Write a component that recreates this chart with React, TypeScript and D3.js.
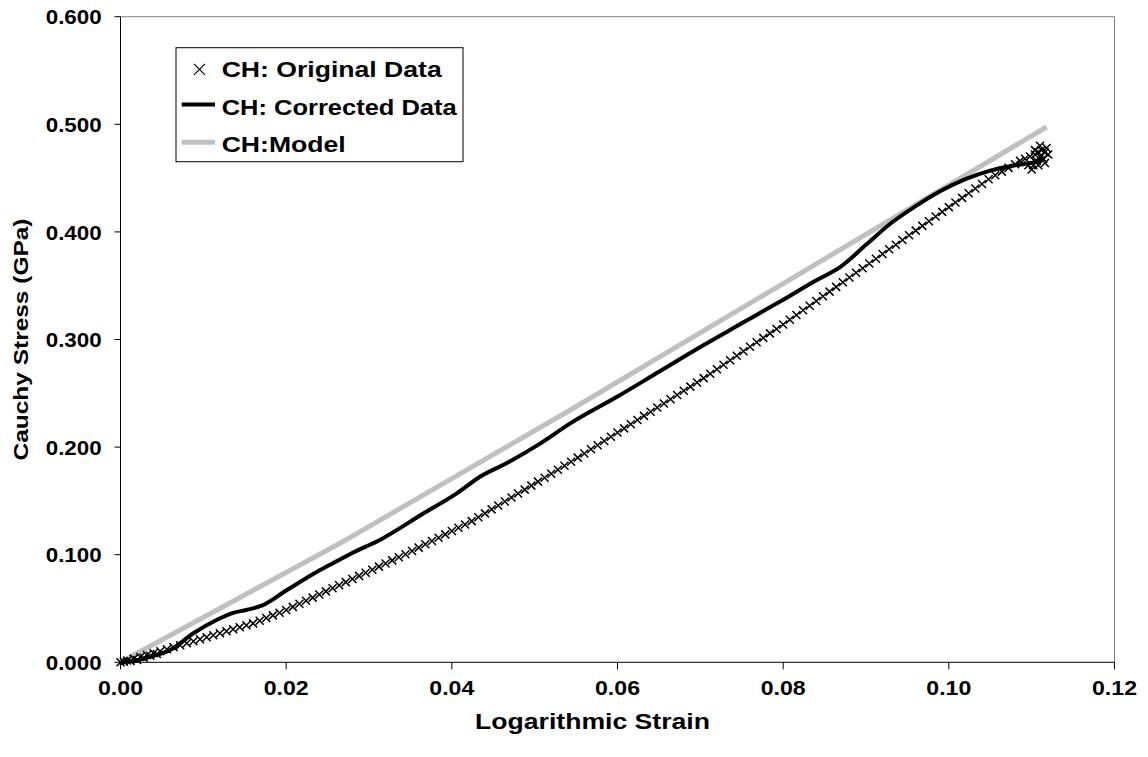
import React from 'react';
import * as d3 from 'd3';

const X_TICKS = [0, 0.02, 0.04, 0.06, 0.08, 0.1, 0.12];
const Y_TICKS = [0, 0.1, 0.2, 0.3, 0.4, 0.5, 0.6];
const LEGEND_LABELS = ['CH: Original Data', 'CH: Corrected Data', 'CH:Model'];
const X_TITLE = 'Logarithmic Strain';
const Y_TITLE = 'Cauchy Stress (GPa)';

// CH: Original Data  [strain, stress]
const ORIGINAL: [number, number][] = [
  [0.0, 0.0], [0.0004, 0.0006], [0.0008, 0.0017], [0.0012, 0.0012], [0.0016, 0.0034], [0.002, 0.0022],
  [0.0024, 0.005], [0.0028, 0.0042], [0.0032, 0.0067], [0.0036, 0.006], [0.004, 0.0084], [0.0044, 0.0078],
  [0.0048, 0.0103], [0.0056, 0.0121], [0.0064, 0.014], [0.0072, 0.0158], [0.008, 0.0177], [0.0088, 0.0195],
  [0.0096, 0.0214], [0.0104, 0.0232], [0.0112, 0.0251], [0.012, 0.027], [0.0128, 0.0288], [0.0136, 0.0307],
  [0.0144, 0.0325], [0.0152, 0.0344], [0.016, 0.0362], [0.0168, 0.0387], [0.0176, 0.0412], [0.0184, 0.0436],
  [0.0192, 0.0461], [0.02, 0.0486], [0.0208, 0.0515], [0.0216, 0.0544], [0.0224, 0.0572], [0.0232, 0.0601],
  [0.024, 0.063], [0.0248, 0.0659], [0.0256, 0.0688], [0.0264, 0.0716], [0.0272, 0.0745], [0.028, 0.0774],
  [0.0288, 0.0803], [0.0296, 0.0832], [0.0304, 0.086], [0.0312, 0.0889], [0.032, 0.0918], [0.0328, 0.0947],
  [0.0336, 0.0976], [0.0344, 0.1004], [0.0352, 0.1035], [0.036, 0.1066], [0.0368, 0.1097], [0.0376, 0.1127],
  [0.0384, 0.1158], [0.0392, 0.1189], [0.04, 0.122], [0.0408, 0.1251], [0.0416, 0.1281], [0.0424, 0.1312],
  [0.0432, 0.1348], [0.044, 0.1384], [0.0448, 0.1421], [0.0456, 0.1458], [0.0464, 0.1495], [0.0472, 0.1532],
  [0.048, 0.1568], [0.0488, 0.1605], [0.0496, 0.1642], [0.0504, 0.1679], [0.0512, 0.1716], [0.052, 0.1752],
  [0.0528, 0.1789], [0.0536, 0.1826], [0.0544, 0.1863], [0.0552, 0.1902], [0.056, 0.1941], [0.0568, 0.198],
  [0.0576, 0.2018], [0.0584, 0.2057], [0.0592, 0.2096], [0.06, 0.2135], [0.0608, 0.2174], [0.0616, 0.2212],
  [0.0624, 0.2251], [0.0632, 0.229], [0.064, 0.2329], [0.0648, 0.2368], [0.0656, 0.2406], [0.0664, 0.2445],
  [0.0672, 0.2484], [0.068, 0.2523], [0.0688, 0.2562], [0.0696, 0.26], [0.0704, 0.2641], [0.0712, 0.2682],
  [0.072, 0.2724], [0.0728, 0.2766], [0.0736, 0.2807], [0.0744, 0.2849], [0.0752, 0.289], [0.076, 0.2932],
  [0.0768, 0.2974], [0.0776, 0.3015], [0.0784, 0.3057], [0.0792, 0.3098], [0.08, 0.314], [0.0808, 0.3184],
  [0.0816, 0.3227], [0.0824, 0.3271], [0.0832, 0.3314], [0.084, 0.3358], [0.0848, 0.3402], [0.0856, 0.3445],
  [0.0864, 0.3489], [0.0872, 0.3532], [0.088, 0.3576], [0.0888, 0.362], [0.0896, 0.3663], [0.0904, 0.3707],
  [0.0912, 0.375], [0.092, 0.3794], [0.0928, 0.3838], [0.0936, 0.3881], [0.0944, 0.3925], [0.0952, 0.3968],
  [0.096, 0.4012], [0.0968, 0.4056], [0.0976, 0.4099], [0.0984, 0.4143], [0.0992, 0.4186], [0.1, 0.423],
  [0.1008, 0.4273], [0.1016, 0.4316], [0.1024, 0.436], [0.1032, 0.4403], [0.104, 0.4446], [0.1048, 0.4489],
  [0.1056, 0.4526], [0.1064, 0.456], [0.1072, 0.4595], [0.108, 0.4629], [0.1086, 0.466], [0.1092, 0.468],
  [0.1098, 0.47], [0.1104, 0.472], [0.111, 0.47], [0.1116, 0.474], [0.1108, 0.462], [0.11, 0.458],
  [0.1112, 0.476], [0.1118, 0.478], [0.1106, 0.466], [0.1114, 0.468], [0.112, 0.472], [0.1102, 0.462],
  [0.111, 0.48], [0.1096, 0.462], [0.1104, 0.476], [0.1116, 0.464], [0.1108, 0.474],
];

// CH: Corrected Data
const CORRECTED: [number, number][] = [
  [0.0, 0.0], [0.002, 0.002], [0.004, 0.006], [0.006, 0.0114], [0.0088, 0.027], [0.0116, 0.0393],
  [0.0136, 0.046], [0.0152, 0.0486], [0.0172, 0.0532], [0.0201, 0.0672], [0.0241, 0.0858], [0.0265, 0.0955],
  [0.0277, 0.1005], [0.0313, 0.1137], [0.0366, 0.1385], [0.0406, 0.157], [0.0434, 0.1725], [0.0466, 0.185],
  [0.0507, 0.2035], [0.0543, 0.222], [0.06, 0.247], [0.065, 0.27], [0.07, 0.293], [0.075, 0.315],
  [0.08, 0.337], [0.084, 0.355], [0.087, 0.368], [0.09, 0.388], [0.093, 0.408], [0.096, 0.424],
  [0.099, 0.438], [0.102, 0.449], [0.105, 0.457], [0.108, 0.462], [0.1105, 0.465], [0.1115, 0.47],
];

// CH:Model
const MODEL: [number, number][] = [
  [0.0, 0.0], [0.0265, 0.1106], [0.0543, 0.2345], [0.08, 0.352], [0.1118, 0.4975],
];

const FONT = '"Liberation Sans", Arial, Helvetica, sans-serif';

export default function App() {
  const x = d3.scaleLinear().domain([0, 0.12]).range([120.5, 1114.5]);
  const y = d3.scaleLinear().domain([0, 0.6]).range([662.3, 16.7]);
  const straight = d3.line<[number, number]>().x((d) => x(d[0])).y((d) => y(d[1]));
  const smooth = d3
    .line<[number, number]>()
    .x((d) => x(d[0]))
    .y((d) => y(d[1]))
    .curve(d3.curveMonotoneX);
  const fx = d3.format('.2f');
  const fy = d3.format('.3f');
  const [x0, x1] = x.range();
  const [y0, y1] = y.range();
  const m = 4;
  const markPath = `M${-m},${-m}L${m},${m}M${-m},${m}L${m},${-m}`;
  const lm = 5.5;
  const legendMark = `M${-lm},${-lm}L${lm},${lm}M${-lm},${lm}L${lm},${-lm}`;
  const legendWidths = [220, 235, 124];
  const legendBaselines = [77.3, 115, 151.7];
  const legendCenters = [69.3, 104.5, 142.3];

  return (
    <svg
      width={1148}
      height={757}
      style={{ position: 'absolute', left: 0, top: 0, background: '#fff' }}
      fontFamily={FONT}
    >
      <rect x={0} y={0} width={1148} height={757} fill="#fff" />
      {/* plot frame */}
      <line x1={x0} x2={x1} y1={y1} y2={y1} stroke="#808080" strokeWidth={1} />
      <line x1={x1} x2={x1} y1={y1} y2={y0} stroke="#808080" strokeWidth={1} />
      <line x1={x0} x2={x0} y1={y1} y2={y0} stroke="#000" strokeWidth={1} />
      <line x1={x0} x2={x1} y1={y0} y2={y0} stroke="#000" strokeWidth={1} />

      {/* y ticks */}
      {Y_TICKS.map((t) => (
        <g key={'y' + t}>
          <line x1={x0 - 6} x2={x0} y1={y(t)} y2={y(t)} stroke="#000" strokeWidth={1} />
          <text
            x={101.7}
            y={y(t) + 7.6}
            textAnchor="end"
            fontSize={21}
            fontWeight="bold"
            textLength={56}
            lengthAdjust="spacingAndGlyphs"
          >
            {fy(t)}
          </text>
        </g>
      ))}
      {/* x ticks */}
      {X_TICKS.map((t) => (
        <g key={'x' + t}>
          <line x1={x(t)} x2={x(t)} y1={y0} y2={y0 + 7} stroke="#000" strokeWidth={1} />
          <text
            x={x(t)}
            y={695}
            textAnchor="middle"
            fontSize={21}
            fontWeight="bold"
            textLength={45}
            lengthAdjust="spacingAndGlyphs"
          >
            {fx(t)}
          </text>
        </g>
      ))}

      {/* axis titles */}
      <text
        x={592.5}
        y={729}
        textAnchor="middle"
        fontSize={22}
        fontWeight="bold"
        textLength={235}
        lengthAdjust="spacingAndGlyphs"
      >
        {X_TITLE}
      </text>
      <text
        transform="translate(28.4,339.5) rotate(-90)"
        textAnchor="middle"
        fontSize={21}
        fontWeight="bold"
        textLength={242}
        lengthAdjust="spacingAndGlyphs"
      >
        {Y_TITLE}
      </text>

      {/* series */}
      <path d={straight(MODEL) || ''} fill="none" stroke="#c0c0c0" strokeWidth={5} />
      <g>
        {ORIGINAL.map((d, i) => (
          <path
            key={i}
            d={markPath}
            transform={`translate(${x(d[0])},${y(d[1])})`}
            stroke="#000"
            strokeWidth={1.5}
            fill="none"
          />
        ))}
      </g>
      <path d={smooth(CORRECTED) || ''} fill="none" stroke="#000" strokeWidth={4} strokeLinejoin="round" />

      {/* legend */}
      <rect x={176} y={47.7} width={287} height={114} fill="#fff" stroke="#000" strokeWidth={1} />
      <path d={legendMark} transform={`translate(199.5,${legendCenters[0]})`} stroke="#000" strokeWidth={1.2} fill="none" />
      <line x1={181.7} x2={215} y1={legendCenters[1]} y2={legendCenters[1]} stroke="#000" strokeWidth={4} />
      <line x1={181.7} x2={215} y1={legendCenters[2]} y2={legendCenters[2]} stroke="#c0c0c0" strokeWidth={5} />
      {LEGEND_LABELS.map((l, i) => (
        <text
          key={l}
          x={221.7}
          y={legendBaselines[i]}
          fontSize={21.5}
          fontWeight="bold"
          textLength={legendWidths[i]}
          lengthAdjust="spacingAndGlyphs"
        >
          {l}
        </text>
      ))}
    </svg>
  );
}
